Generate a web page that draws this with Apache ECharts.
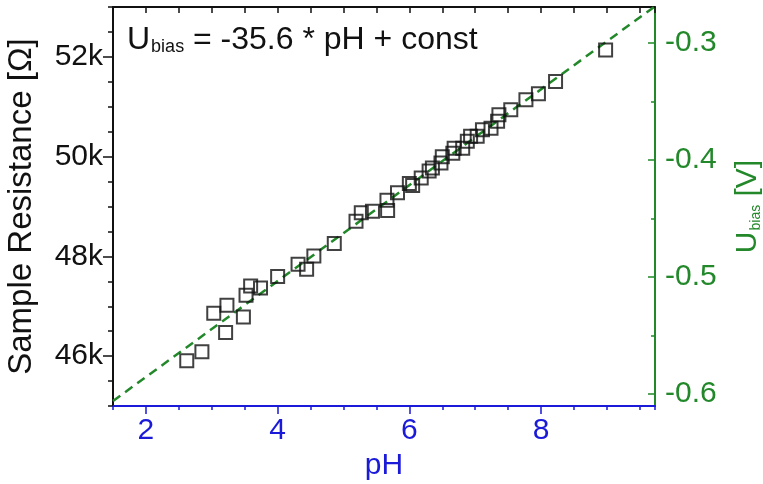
<!DOCTYPE html>
<html><head><meta charset="utf-8">
<script src="https://cdn.jsdelivr.net/npm/echarts@6/dist/echarts.min.js"></script>
<style>html,body{margin:0;padding:0;background:#fff}#c{width:763px;height:484px}</style>
</head><body><div id="c"></div>
<script>
// pH of each measurement
const phValues = [2.62, 2.85, 3.03, 3.21, 3.23, 3.48, 3.52, 3.59, 3.74, 4.00,
  4.31, 4.44, 4.55, 4.86, 5.19, 5.27, 5.44, 5.66, 5.67, 5.82,
  6.00, 6.05, 6.18, 6.30, 6.35, 6.48, 6.50, 6.66, 6.68, 6.81,
  6.88, 6.93, 7.03, 7.11, 7.24, 7.34, 7.36, 7.54, 7.77, 7.96,
  8.22, 8.98];
// sample resistance in ohm
const resistanceValues = [45906, 46086, 46860, 46474, 47020, 46786, 47220, 47406, 47366, 47594,
  47840, 47740, 48010, 48260, 48706, 48874, 48906, 49126, 48920, 49274,
  49460, 49420, 49570, 49710, 49770, 49870, 50000, 50070, 50170, 50170,
  50310, 50410, 50410, 50540, 50570, 50710, 50840, 50940, 51140, 51260,
  51506, 52140];
// fitted bias line (right axis)
const fitLinePH = [1.5, 9.72];
const fitLineU = [-0.606, -0.269];
// tick labels
const xTickLabels = [2, 4, 6, 8];
const leftTickLabels = [46000, 48000, 50000, 52000];
const rightTickLabels = [-0.6, -0.5, -0.4, -0.3];
const rightMinorTicks = [-0.6, -0.55, -0.5, -0.45, -0.4, -0.35, -0.3];

const BLUE = '#1a1ad8';
const GREEN = '#22882a';
const BLACK = '#111';
const FONT = 'Liberation Sans, Arial, sans-serif';

const scatterData = phValues.map((p, i) => [p, resistanceValues[i]]);
const lineData = fitLinePH.map((p, i) => [p, fitLineU[i]]);

const XMIN = 1.5, XMAX = 9.73;
const LMIN = 45000, LMAX = 53000;
const RMIN = -0.6103, RMAX = -0.2692;

const chart = echarts.init(document.getElementById('c'), null, {renderer: 'canvas'});
chart.setOption({
  animation: false,
  backgroundColor: '#fff',
  textStyle: {fontFamily: FONT},
  title: {
    left: 122, top: 19,
    text: '{u|U}{s|bias}{u| = -35.6 * pH + const}',
    textStyle: {
      fontWeight: 'normal',
      rich: {
        u: {fontSize: 32, fontWeight: 'normal', color: BLACK, fontFamily: FONT, lineHeight: 32, verticalAlign: 'top'},
        s: {fontSize: 18, fontWeight: 'normal', color: BLACK, fontFamily: FONT, lineHeight: 18, verticalAlign: 'bottom', padding: [24, 0, 0, 1]}
      }
    }
  },
  grid: {left: 113, right: 108, top: 7, bottom: 78, containLabel: false, outerBoundsMode: 'none'},
  xAxis: [
    {
      type: 'value', position: 'bottom', min: XMIN, max: XMAX, interval: 0.5,
      axisLine: {show: true, onZero: false, lineStyle: {color: BLUE, width: 2}},
      axisTick: {show: true, inside: false, length: 4, lineStyle: {color: BLUE, width: 1.5}},
      axisLabel: {customValues: xTickLabels, color: BLUE, fontSize: 30, margin: 10, fontFamily: FONT},
      splitLine: {show: false},
      name: 'pH', nameLocation: 'middle', nameGap: 43,
      nameTextStyle: {color: BLUE, fontSize: 30, fontFamily: FONT}
    },
    {
      type: 'value', position: 'bottom', min: XMIN, max: XMAX,
      axisLine: {show: false, onZero: false},
      axisTick: {show: true, inside: false, length: 8, customValues: xTickLabels, lineStyle: {color: BLUE, width: 1.5}},
      axisLabel: {show: false}, splitLine: {show: false}
    },
    {
      type: 'value', position: 'top', min: XMIN, max: XMAX, interval: 0.5,
      axisLine: {show: true, onZero: false, lineStyle: {color: BLACK, width: 2}},
      axisTick: {show: true, inside: true, length: 6, lineStyle: {color: BLACK, width: 1.5}},
      axisLabel: {show: false}, splitLine: {show: false}
    }
  ],
  yAxis: [
    {
      type: 'value', position: 'left', min: LMIN, max: LMAX, interval: 500,
      axisLine: {show: true, onZero: false, lineStyle: {color: BLACK, width: 2}},
      axisTick: {show: true, inside: false, length: 5, lineStyle: {color: BLACK, width: 1.5}},
      axisLabel: {customValues: leftTickLabels, color: BLACK, fontSize: 30, margin: 10, fontFamily: FONT,
        formatter: v => (v / 1000) + 'k'},
      splitLine: {show: false},
      name: 'Sample Resistance [Ω]', nameLocation: 'middle', nameRotate: 90, nameGap: 75,
      nameTextStyle: {color: BLACK, fontSize: 33, fontFamily: FONT}
    },
    {
      type: 'value', position: 'left', min: LMIN, max: LMAX,
      axisLine: {show: false, onZero: false},
      axisTick: {show: true, inside: false, length: 10, customValues: leftTickLabels, lineStyle: {color: BLACK, width: 1.5}},
      axisLabel: {show: false}, splitLine: {show: false}
    },
    {
      type: 'value', position: 'right', min: RMIN, max: RMAX,
      axisLine: {show: true, onZero: false, lineStyle: {color: GREEN, width: 2}},
      axisTick: {show: true, inside: true, length: 4, customValues: rightMinorTicks, lineStyle: {color: GREEN, width: 1.5}},
      axisLabel: {customValues: rightTickLabels, color: GREEN, fontSize: 30, margin: 10, fontFamily: FONT,
        formatter: v => v.toFixed(1)},
      splitLine: {show: false},
      name: '{u|U}{s|bias}{u| [V]}', nameLocation: 'middle', nameRotate: 90, nameGap: 78,
      nameTextStyle: {
        color: GREEN,
        rich: {
          u: {fontSize: 30, color: GREEN, fontFamily: FONT, lineHeight: 30, verticalAlign: 'top'},
          s: {fontSize: 14, color: GREEN, fontFamily: FONT, lineHeight: 14, verticalAlign: 'bottom', padding: [21, 0, 0, 1]}
        }
      }
    },
    {
      type: 'value', position: 'right', min: RMIN, max: RMAX,
      axisLine: {show: false, onZero: false},
      axisTick: {show: true, inside: true, length: 7, customValues: rightTickLabels, lineStyle: {color: GREEN, width: 1.5}},
      axisLabel: {show: false}, splitLine: {show: false}
    }
  ],
  series: [
    {
      type: 'line', xAxisIndex: 0, yAxisIndex: 2, data: lineData,
      symbol: 'none', silent: true, z: 2,
      lineStyle: {color: GREEN, width: 2.5, type: [9, 6]}
    },
    {
      type: 'scatter', xAxisIndex: 0, yAxisIndex: 0, data: scatterData,
      symbol: 'rect', symbolSize: 13, z: 3,
      itemStyle: {color: 'rgba(0,0,0,0)', borderColor: BLACK, borderWidth: 2}
    }
  ]
});
</script>
</body></html>
